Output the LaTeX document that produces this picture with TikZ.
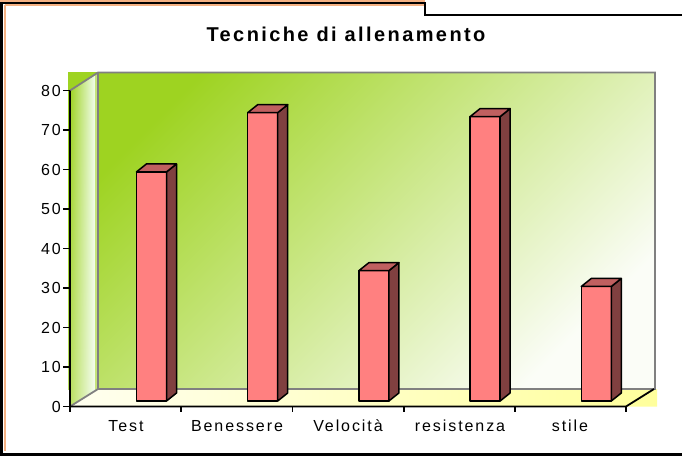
\documentclass[tikz,border=0pt]{standalone}
\usepackage{fontspec}
\setmainfont{Liberation Sans}
\newfontfamily\titlefont[LetterSpace=12]{Liberation Sans}
\newfontfamily\labfont[LetterSpace=12]{Liberation Sans}
\usetikzlibrary{fadings}
\definecolor{wallgreen}{HTML}{9ED321}
\definecolor{wallmid}{HTML}{C6E49E}
\definecolor{wallwhite}{HTML}{FBFDF7}
\definecolor{floorpale}{HTML}{FFFFF0}
\definecolor{flooryellow}{HTML}{FFFF9C}
\definecolor{barfront}{HTML}{FF8080}
\definecolor{barside}{HTML}{804040}
\definecolor{bartop}{HTML}{C06060}
\definecolor{frameorange}{HTML}{F4B183}
\definecolor{edgegray}{HTML}{808080}
\tikzset{
  barline/.style={draw=black, line width=1.5pt, line join=round},
  grayedge/.style={draw=edgegray, line width=1.8pt},
  axisline/.style={draw=black, line width=1.8pt},
  frameline/.style={draw=black, line width=3pt},
  ticklab/.style={font=\labfont\fontsize{16}{18}\selectfont, inner sep=0pt},
}
\begin{document}
\begin{tikzpicture}[x=1pt,y=-1pt]
\useasboundingbox (0,0) rectangle (682,456);
\fill[white] (0,0) rectangle (682,456);
% frame
\fill[frameorange] (0,0) rectangle (425,2.5);
\draw[frameorange, line width=1.2pt] (5,5) -- (425,5);
\draw[frameorange, line width=1.2pt] (5,5) -- (5,451);
\draw[black, line width=2pt] (0,3) -- (425,3) -- (425,14.5) -- (682,14.5);
\draw[frameline] (1.5,3) -- (1.5,456);
\draw[frameline] (0,454.5) -- (682,454.5);
% back wall
\shade[top color=wallgreen, middle color=wallmid, bottom color=wallwhite, shading angle=45]
  (68,72.5) rectangle (655,389);
% floor
\shade[left color=floorpale, right color=flooryellow]
  (70,406.5) -- (98,389) -- (657,389) -- (657,406.5) -- cycle;
% side wall
\shade[left color=wallgreen, right color=green!4!white]
  (70,90.5) -- (96,73.5) -- (96,389) -- (70,406.5) -- cycle;
\fill[white, path fading=north, fill opacity=0.3]
  (70,90.5) -- (96,73.5) -- (96,389) -- (70,406.5) -- cycle;
\fill[wallgreen!60!white] (95,73) rectangle (98,389);
% gray edges
\draw[grayedge] (70,90.5) -- (98,72.5) -- (655,72.5) -- (655,389) -- (98,389) -- (70,406.5);
\draw[grayedge] (98,72.5) -- (98,389);
% bars
\foreach \i/\v in {0/58,1/73,2/33,3/72,4/29} {
  \pgfmathsetmacro\xl{136.5+111.2*\i}
  \pgfmathsetmacro\xr{\xl+30}
  \pgfmathsetmacro\yt{401-3.95*\v}
  \draw[barline, fill=barfront] (\xl,401) rectangle (\xr,\yt);
  \draw[barline, fill=barside] (\xr,401) -- (\xr+10,393) -- (\xr+10,\yt-8) -- (\xr,\yt) -- cycle;
  \draw[barline, fill=bartop] (\xl,\yt) -- (\xl+10,\yt-8) -- (\xr+10,\yt-8) -- (\xr,\yt) -- cycle;
}
% axes
\draw[axisline] (70,90.5) -- (70,406.5) -- (626,406.5) -- (654,389);
\foreach \k in {0,...,8} {
  \pgfmathsetmacro\yy{406.5-39.5*\k}
  \draw[axisline] (63,\yy) -- (70,\yy);
  \pgfmathtruncatemacro\lab{10*\k}
  \node[ticklab, anchor=east] (y\k) at (61,\yy) {\lab};
}
\foreach \k in {0,...,5} {
  \pgfmathsetmacro\xx{70+111.2*\k}
  \draw[axisline] (\xx,406.5) -- (\xx,412);
}
\node[ticklab, anchor=base] (c1) at (126,431) {Test};
\node[ticklab, anchor=base] (c2) at (237,431) {Benessere};
\node[ticklab, anchor=base] (c3) at (348,431) {Velocità};
\node[ticklab, anchor=base] (c4) at (460,431) {resistenza};
\node[ticklab, anchor=base] (c5) at (570,431) {stile};
% title
\node[inner sep=0pt, anchor=base, font=\titlefont\bfseries\fontsize{20}{23}\selectfont] (title) at (346,41) {Tecniche di allenamento};
\end{tikzpicture}
\end{document}
